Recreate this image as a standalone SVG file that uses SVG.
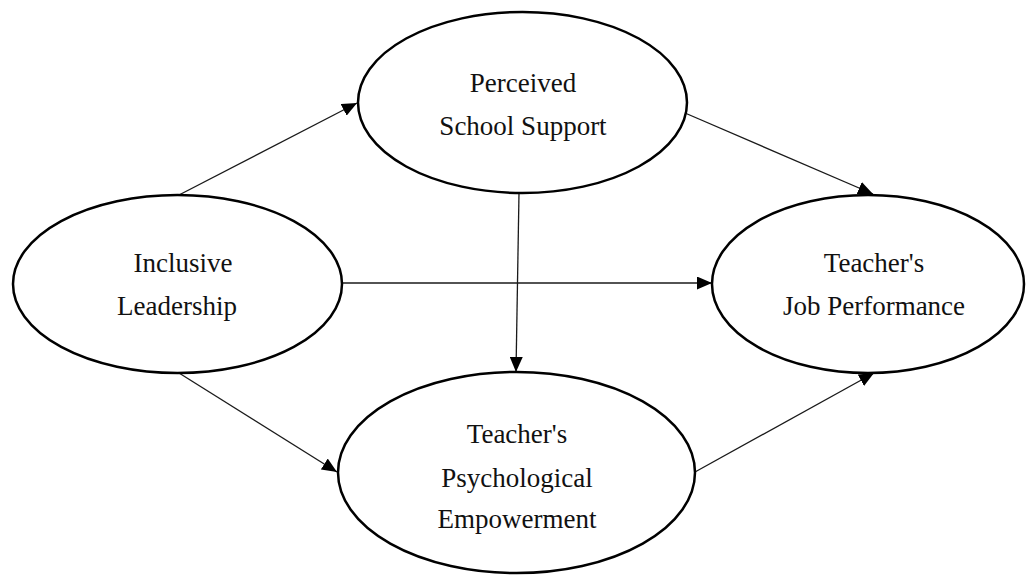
<svg xmlns="http://www.w3.org/2000/svg" width="1026" height="575" viewBox="0 0 1026 575">
  <style>
    .node ellipse { fill: #ffffff; stroke: #000000; stroke-width: 2.5; }
    .node text { font-family: "Liberation Serif", "Times New Roman", serif; font-size: 27px; fill: #111111; text-anchor: middle; }
    .edge { stroke: #1a1a1a; stroke-width: 1.3; fill: none; marker-end: url(#arrow); }
  </style>
  <defs>
    <marker id="arrow" markerUnits="userSpaceOnUse" markerWidth="15" markerHeight="13" refX="15" refY="6.5" orient="auto">
      <path d="M0,0 L15,6.5 L0,13 z" fill="#000000"/>
    </marker>
  </defs>
  <rect width="1026" height="575" fill="#ffffff"/>
  <g id="connectors">
    <line class="edge" x1="179" y1="195" x2="357" y2="103"/>
    <line class="edge" x1="685" y1="113" x2="873" y2="194"/>
    <line class="edge" x1="342" y1="283" x2="712" y2="283"/>
    <line class="edge" x1="519" y1="193" x2="516" y2="372"/>
    <line class="edge" x1="179" y1="373" x2="337" y2="472"/>
    <line class="edge" x1="695" y1="472" x2="874" y2="373"/>
  </g>
  <g id="perceived-school-support" class="node">
    <ellipse cx="522.5" cy="102.5" rx="164.5" ry="90.5"/>
    <text x="523" y="92">Perceived</text>
    <text x="523" y="135">School Support</text>
  </g>
  <g id="inclusive-leadership" class="node">
    <ellipse cx="177.5" cy="284" rx="164.5" ry="89"/>
    <text x="183" y="272">Inclusive</text>
    <text x="177" y="315">Leadership</text>
  </g>
  <g id="job-performance" class="node">
    <ellipse cx="868" cy="284" rx="156" ry="89"/>
    <text x="874" y="272">Teacher's</text>
    <text x="874" y="315">Job Performance</text>
  </g>
  <g id="psychological-empowerment" class="node">
    <ellipse cx="516.5" cy="472.5" rx="178.5" ry="100.5"/>
    <text x="517" y="443">Teacher's</text>
    <text x="517" y="487">Psychological</text>
    <text x="517" y="528">Empowerment</text>
  </g>
</svg>
